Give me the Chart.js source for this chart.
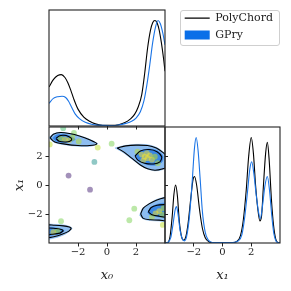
<!DOCTYPE html>
<html><head><meta charset="utf-8">
<script src="https://cdn.jsdelivr.net/npm/chart.js@4"></script>
<style>
html,body{margin:0;padding:0;background:#fff;}
#wrap{position:relative;width:291px;height:291px;overflow:hidden;background:#fff;}
canvas{position:absolute;}
#lgbox{position:absolute;left:180px;top:10px;width:100px;height:36px;border:1px solid #cfcfcf;border-radius:3px;box-sizing:border-box;background:#fff;}
</style></head><body>
<div id="wrap">
<div id="lgbox"></div>
<canvas id="cTL" width="291" height="291" style="left:0;top:0"></canvas>
<canvas id="cBL" width="291" height="291" style="left:0;top:0"></canvas>
<canvas id="cBR" width="291" height="291" style="left:0;top:0"></canvas>
<canvas id="cLG" width="100" height="100" style="left:179px;top:7px"></canvas>
</div>
<script>
// ---------------- data ----------------
const seriesNames = ['PolyChord', 'GPry'];
const tickValues = [-2, 0, 2];

// 1D marginal of x0
const x0PolyX = [-4.0,-3.7,-3.4,-3.15,-2.9,-2.7,-2.5,-2.3,-2.0,-1.6,-1.2,-0.8,-0.3,0.3,0.8,1.2,1.6,1.9,2.15,2.4,2.6,2.8,3.0,3.15,3.3,3.45,3.6,3.75,3.9,4.0];
const x0PolyY = [0.37,0.44,0.478,0.487,0.46,0.41,0.34,0.26,0.16,0.085,0.045,0.02,0.007,0.006,0.012,0.03,0.065,0.11,0.18,0.3,0.5,0.74,0.91,0.98,1.0,0.98,0.91,0.79,0.64,0.52];
const x0GPryX = [-4.0,-3.7,-3.4,-3.1,-2.85,-2.65,-2.45,-2.2,-1.9,-1.5,-1.0,-0.4,0.2,0.8,1.3,1.7,2.0,2.3,2.55,2.75,2.95,3.15,3.35,3.52,3.68,3.85,4.0];
const x0GPryY = [0.215,0.262,0.278,0.282,0.27,0.235,0.18,0.115,0.07,0.035,0.015,0.006,0.005,0.01,0.025,0.045,0.075,0.135,0.24,0.39,0.58,0.79,0.94,1.0,0.97,0.88,0.77];

// 1D marginal of x1
const x1PolyX = [-4.0,-3.8,-3.65,-3.5,-3.38,-3.26,-3.14,-3.0,-2.85,-2.7,-2.55,-2.4,-2.2,-2.05,-1.95,-1.8,-1.6,-1.4,-1.2,-0.95,-0.6,0.6,1.0,1.25,1.45,1.65,1.82,2.0,2.15,2.3,2.45,2.6,2.72,2.85,3.0,3.12,3.25,3.4,3.55,3.7,3.85,4.0];
const x1PolyY = [0,0.005,0.06,0.25,0.46,0.55,0.45,0.2,0.06,0.025,0.06,0.18,0.43,0.6,0.63,0.55,0.32,0.14,0.05,0.012,0.002,0.002,0.015,0.07,0.22,0.5,0.82,1.0,0.85,0.55,0.33,0.21,0.26,0.55,0.85,0.955,0.78,0.42,0.17,0.04,0.005,0];
const x1GPryX = [-4.0,-3.8,-3.6,-3.45,-3.3,-3.2,-3.08,-2.95,-2.8,-2.65,-2.5,-2.3,-2.1,-1.95,-1.83,-1.7,-1.55,-1.4,-1.2,-1.0,-0.7,0.7,1.1,1.35,1.55,1.75,1.9,2.03,2.18,2.35,2.5,2.63,2.78,2.95,3.12,3.27,3.42,3.57,3.72,3.9,4.0];
const x1GPryY = [0,0.005,0.05,0.17,0.31,0.345,0.26,0.12,0.04,0.02,0.06,0.25,0.6,0.9,1.0,0.88,0.6,0.3,0.1,0.03,0.005,0.005,0.02,0.08,0.25,0.5,0.7,0.77,0.66,0.45,0.3,0.23,0.35,0.54,0.63,0.5,0.27,0.09,0.02,0.002,0];

// 2D contours (x0, x1)
const gpryOuterA = [[-0.62,2.85],[-1.3,3.2],[-2.0,3.42],[-2.7,3.58],[-3.3,3.63],[-3.75,3.5],[-3.97,3.25],[-3.6,2.93],[-2.9,2.77],[-2.0,2.67],[-1.1,2.68],[-0.62,2.85]];
const gpryInnerA = [[-3.75,3.25],[-3.5,3.45],[-3.0,3.5],[-2.5,3.35],[-2.2,3.15],[-2.5,2.98],[-3.0,2.93],[-3.5,3.0],[-3.75,3.25]];
const polyOuterA = [[-3.92,3.25],[-3.7,3.5],[-3.2,3.62],[-2.6,3.55],[-1.9,3.38],[-1.2,3.12],[-0.7,2.85],[-1.2,2.72],[-2.0,2.72],[-2.9,2.82],[-3.6,2.97],[-3.92,3.25]];
const polyInnerA = [[-3.52,3.2],[-3.3,3.38],[-3.0,3.43],[-2.65,3.35],[-2.43,3.17],[-2.6,3.0],[-2.9,2.97],[-3.3,3.02],[-3.52,3.2]];

const gpryOuterB = [[0.55,2.55],[1.2,2.72],[2.0,2.8],[2.8,2.78],[3.4,2.6],[3.85,2.3],[4.2,1.9],[4.2,1.3],[3.8,1.05],[3.3,0.98],[2.8,1.1],[2.3,1.35],[1.7,1.8],[1.1,2.25],[0.55,2.55]];
const gpryInnerB = [[1.95,2.05],[2.3,2.35],[2.9,2.48],[3.5,2.35],[3.85,2.0],[3.8,1.6],[3.4,1.38],[2.8,1.4],[2.3,1.6],[1.95,2.05]];
const polyOuterB = [[0.7,2.55],[1.3,2.7],[2.0,2.75],[2.8,2.72],[3.4,2.55],[3.85,2.25],[4.2,1.9],[4.2,1.3],[3.8,1.1],[3.3,1.02],[2.8,1.12],[2.3,1.38],[1.7,1.85],[1.2,2.25],[0.7,2.55]];
const polyInnerB = [[1.93,2.0],[2.3,2.35],[2.9,2.45],[3.45,2.3],[3.77,1.95],[3.65,1.6],[3.2,1.45],[2.6,1.5],[2.15,1.7],[1.93,2.0]];

const gpryOuterC = [[2.25,-2.1],[2.4,-1.7],[2.8,-1.35],[3.3,-1.05],[3.8,-0.88],[4.3,-0.85],[4.3,-2.5],[3.6,-2.48],[3.0,-2.45],[2.5,-2.35],[2.25,-2.1]];
const gpryInnerC = [[2.8,-1.9],[3.0,-1.6],[3.4,-1.35],[3.9,-1.25],[4.3,-1.25],[4.3,-2.25],[3.6,-2.2],[3.0,-2.1],[2.8,-1.9]];
const polyOuterC = [[2.32,-2.0],[2.5,-1.6],[2.9,-1.3],[3.4,-1.05],[3.98,-0.87],[4.3,-0.85],[4.3,-2.4],[3.6,-2.42],[3.0,-2.4],[2.5,-2.3],[2.32,-2.0]];
const polyInnerC = [[2.85,-1.85],[3.05,-1.55],[3.45,-1.4],[3.98,-1.35],[4.3,-1.35],[4.3,-2.2],[3.6,-2.15],[3.1,-2.05],[2.85,-1.85]];

const gpryOuterD = [[-2.4,-2.98],[-2.6,-2.85],[-3.0,-2.75],[-3.6,-2.72],[-4.3,-2.75],[-4.3,-3.7],[-3.6,-3.65],[-3.0,-3.45],[-2.6,-3.2],[-2.4,-2.98]];
const gpryInnerD = [[-2.95,-3.15],[-3.1,-3.05],[-3.6,-2.95],[-4.3,-2.95],[-4.3,-3.5],[-3.7,-3.45],[-3.2,-3.35],[-2.95,-3.15]];
const polyOuterD = [[-2.45,-3.0],[-2.6,-2.9],[-3.0,-2.82],[-3.6,-2.78],[-4.3,-2.8],[-4.3,-3.6],[-3.6,-3.55],[-3.1,-3.4],[-2.65,-3.2],[-2.45,-3.0]];
const polyInnerD = [[-3.0,-3.15],[-3.1,-3.08],[-3.5,-3.0],[-4.3,-3.0],[-4.3,-3.42],[-3.8,-3.4],[-3.25,-3.32],[-3.0,-3.15]];

// GP training points (x0, x1, relative value for colour)
const ptX = [-2.65,-1.17,-0.87,0.32,-0.64,-3.02,-2.28,-3.95,1.88,1.54,-3.17,3.85,-2.9,-2.6,-3.2,-2.4,-1.95,2.6,2.8,2.95,3.1,2.4,2.75,3.3,2.1,2.5,3.5,3.35,3.6,3.8,3.1,3.9,-3.7,-3.4];
const ptY = [0.65,-0.32,1.59,2.85,2.58,3.92,3.59,2.8,-1.63,-2.43,-2.5,-2.75,3.15,3.1,3.2,3.25,3.0,1.95,1.85,2.05,1.75,2.1,2.2,1.95,2.3,1.7,1.5,-1.95,-1.8,-2.05,-2.2,-1.6,-3.25,-3.15];
const ptV = [0.1,0.12,0.5,0.8,0.85,0.65,0.8,0.85,0.8,0.8,0.8,0.85,0.97,0.95,0.93,0.92,0.9,1.0,1.0,0.98,0.97,0.95,0.96,0.93,0.9,0.95,0.9,0.95,0.97,0.93,0.9,0.92,0.95,0.93];

// ---------------- styles ----------------
const FONT = 'DejaVu Serif';
const INK = '#222';
const BLACK = '#000000';
const BLUE = '#1a74e6';
const OUTER_FILL = '#8dbdf0';
const INNER_FILL = '#3a87e6';
const viridis = ['#440154','#482475','#414487','#355f8d','#2a788e','#21918c','#22a884','#44bf70','#7ad151','#bddf26','#fde725'];
function rgba(hex, a){const n=parseInt(hex.slice(1),16);return `rgba(${(n>>16)&255},${(n>>8)&255},${n&255},${a})`;}
function fmt(v){return v<0?'\u2212'+Math.abs(v):String(v);}
const xy = (xs, ys) => xs.map((x,i)=>({x, y: ys[i]}));
const poly = p => p.map(([x,y])=>({x,y}));

const framePlugin = {
  id: 'frame',
  afterDraw(chart){
    const {ctx, chartArea:a} = chart;
    ctx.save(); ctx.strokeStyle = INK; ctx.lineWidth = 1.1;
    ctx.strokeRect(a.left, a.top, a.right - a.left, a.bottom - a.top);
    ctx.restore();
  }
};

function axisX(showLabels, title){
  return {
    type:'linear', min:-4, max:4, position:'bottom',
    afterBuildTicks: s => { s.ticks = tickValues.map(v=>({value:v})); },
    afterFit: s => { s.height = showLabels ? 40 : 10; },
    grid:{display:true, drawOnChartArea:false, drawTicks:true, tickLength:3.5, color:INK, lineWidth:1},
    border:{display:false},
    ticks:{display:showLabels, padding:0, maxRotation:0, autoSkip:false, color:INK, font:{family:FONT, size:10}, callback: v => fmt(v)},
    title: title ? {display:true, text:title, color:INK, font:{family:FONT, size:13, style:'italic'}, padding:{top:0,bottom:0}} : {display:false}
  };
}
const baseOpts = {responsive:false, animation:false, devicePixelRatio:1, events:[],
  plugins:{legend:{display:false}, tooltip:{enabled:false}}};

// ---------------- top-left: x0 marginal ----------------
new Chart(document.getElementById('cTL'), {
  type:'scatter',
  data:{datasets:[
    {label:seriesNames[1], data:xy(x0GPryX, x0GPryY), showLine:true, borderColor:BLUE, borderWidth:1.1, pointRadius:0, cubicInterpolationMode:'monotone', order:1},
    {label:seriesNames[0], data:xy(x0PolyX, x0PolyY), showLine:true, borderColor:BLACK, borderWidth:1.1, pointRadius:0, cubicInterpolationMode:'monotone', order:2}
  ]},
  options:{...baseOpts,
    layout:{padding:{left:49, top:10, right:126, bottom:155}},
    scales:{x:axisX(false, null), y:{type:'linear', min:0, max:1.1, display:false}}},
  plugins:[framePlugin]
});

// ---------------- bottom-left: 2D ----------------
function fillSet(p, color, order){return {data:poly(p), showLine:true, fill:'shape', backgroundColor:color, borderColor:color, borderWidth:0.6, pointRadius:0, tension:0.3, order};}
function lineSet(p, order){return {data:poly(p), showLine:true, fill:false, borderColor:BLACK, borderWidth:1.1, pointRadius:0, tension:0.3, order};}
const ptColors = ptV.map(v => rgba(viridis[Math.round(v*10)], 0.5));
new Chart(document.getElementById('cBL'), {
  type:'scatter',
  data:{datasets:[
    {data:xy(ptX, ptY), showLine:false, pointRadius:2.9, pointBackgroundColor:ptColors, pointBorderWidth:0, order:5},
    lineSet(polyOuterA,2), lineSet(polyOuterB,2), lineSet(polyOuterC,2), lineSet(polyOuterD,2),
    lineSet(polyInnerA,1), lineSet(polyInnerB,1), lineSet(polyInnerC,1), lineSet(polyInnerD,1),
    fillSet(gpryInnerD, INNER_FILL, 8), fillSet(gpryInnerC, INNER_FILL, 8), fillSet(gpryInnerB, INNER_FILL, 8), fillSet(gpryInnerA, INNER_FILL, 8),
    fillSet(gpryOuterD, OUTER_FILL, 9), fillSet(gpryOuterC, OUTER_FILL, 9), fillSet(gpryOuterB, OUTER_FILL, 9), fillSet(gpryOuterA, OUTER_FILL, 9)
  ]},
  options:{...baseOpts,
    layout:{padding:{left:12, top:127, right:126, bottom:8}},
    scales:{
      x: axisX(true, 'x\u2080'),
      y: {type:'linear', min:-4, max:4, position:'left',
        afterBuildTicks: s => { s.ticks = tickValues.map(v=>({value:v})); },
        afterFit: s => { s.width = 37; },
        grid:{display:true, drawOnChartArea:false, drawTicks:true, tickLength:3.5, color:INK, lineWidth:1},
        border:{display:false},
        ticks:{padding:3, color:INK, font:{family:FONT, size:10}, callback: v => fmt(v)},
        title:{display:true, text:'x\u2081', color:INK, font:{family:FONT, size:13, style:'italic'}, padding:{top:0,bottom:0}}},
      y2: {type:'linear', min:-4, max:4, position:'right',
        afterBuildTicks: s => { s.ticks = tickValues.map(v=>({value:v})); },
        afterFit: s => { s.width = 0; },
        grid:{display:true, drawOnChartArea:false, drawTicks:true, tickLength:3, color:INK, lineWidth:1},
        border:{display:false}, ticks:{display:false}}
    }},
  plugins:[framePlugin]
});

// ---------------- bottom-right: x1 marginal ----------------
new Chart(document.getElementById('cBR'), {
  type:'scatter',
  data:{datasets:[
    {label:seriesNames[1], data:xy(x1GPryX, x1GPryY), showLine:true, borderColor:BLUE, borderWidth:1.1, pointRadius:0, cubicInterpolationMode:'monotone', order:1},
    {label:seriesNames[0], data:xy(x1PolyX, x1PolyY), showLine:true, borderColor:BLACK, borderWidth:1.1, pointRadius:0, cubicInterpolationMode:'monotone', order:2}
  ]},
  options:{...baseOpts,
    layout:{padding:{left:165, top:127, right:11, bottom:8}},
    scales:{x:axisX(true, 'x\u2081'), y:{type:'linear', min:0, max:1.1, display:false}}},
  plugins:[framePlugin]
});

// ---------------- legend ----------------
new Chart(document.getElementById('cLG'), {
  type:'line',
  data:{datasets:[]},
  options:{...baseOpts,
    layout:{padding:0},
    scales:{x:{display:false}, y:{display:false}},
    plugins:{tooltip:{enabled:false}, legend:{display:true, position:'top', align:'start', maxHeight:60, onClick:null,
      labels:{usePointStyle:true, pointStyleWidth:25, boxHeight:9, padding:5.7, color:INK, font:{family:FONT, size:11},
        generateLabels: () => [
          {text:seriesNames[0], pointStyle:'line', strokeStyle:BLACK, fillStyle:BLACK, lineWidth:1.3, hidden:false, fontColor:INK},
          {text:seriesNames[1], pointStyle:'rect', strokeStyle:'#0a6fe8', fillStyle:'#0a6fe8', lineWidth:0, hidden:false, fontColor:INK}
        ]}}}}
});
</script>
</body></html>
